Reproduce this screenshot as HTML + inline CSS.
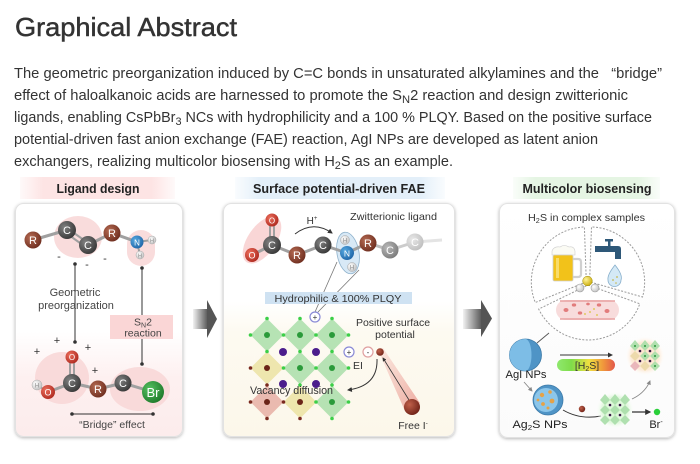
<!DOCTYPE html>
<html><head><meta charset="utf-8"><style>
html,body{margin:0;padding:0;background:#fff;}
svg{display:block;font-family:"Liberation Sans",Arial,sans-serif;}
</style></head><body>
<svg width="700" height="464" viewBox="0 0 700 464" xmlns="http://www.w3.org/2000/svg">
<defs>
<radialGradient id="gR" cx="0.35" cy="0.35" r="0.75"><stop offset="0" stop-color="#b46a52"/><stop offset="1" stop-color="#6a2a1c"/></radialGradient>
<radialGradient id="gC" cx="0.35" cy="0.35" r="0.75"><stop offset="0" stop-color="#808080"/><stop offset="1" stop-color="#333"/></radialGradient>
<radialGradient id="gO" cx="0.35" cy="0.35" r="0.75"><stop offset="0" stop-color="#ec6e5c"/><stop offset="1" stop-color="#ab261c"/></radialGradient>
<radialGradient id="gN" cx="0.35" cy="0.35" r="0.75"><stop offset="0" stop-color="#55a8e0"/><stop offset="1" stop-color="#1d62a4"/></radialGradient>
<radialGradient id="gH" cx="0.35" cy="0.35" r="0.75"><stop offset="0" stop-color="#fff"/><stop offset="1" stop-color="#bdbdbd"/></radialGradient>
<radialGradient id="gBr" cx="0.35" cy="0.35" r="0.75"><stop offset="0" stop-color="#55c060"/><stop offset="1" stop-color="#1c7628"/></radialGradient>
<radialGradient id="gG1" cx="0.35" cy="0.35" r="0.75"><stop offset="0" stop-color="#b8b8b8"/><stop offset="1" stop-color="#777"/></radialGradient>
<radialGradient id="gG2" cx="0.35" cy="0.35" r="0.75"><stop offset="0" stop-color="#e8e8e8"/><stop offset="1" stop-color="#bcbcbc"/></radialGradient>
<radialGradient id="gY" cx="0.35" cy="0.35" r="0.75"><stop offset="0" stop-color="#fff39a"/><stop offset="1" stop-color="#c8a800"/></radialGradient>
<radialGradient id="gBig" cx="0.35" cy="0.35" r="0.75"><stop offset="0" stop-color="#c0604a"/><stop offset="1" stop-color="#6a1e14"/></radialGradient>
<radialGradient id="glowP" cx="0.5" cy="0.5" r="0.5"><stop offset="0" stop-color="#fde3c8"/><stop offset="0.7" stop-color="#fdebd8"/><stop offset="1" stop-color="#fff" stop-opacity="0"/></radialGradient>
<radialGradient id="glowG" cx="0.5" cy="0.5" r="0.5"><stop offset="0" stop-color="#d6f5d0"/><stop offset="0.7" stop-color="#e3f8df"/><stop offset="1" stop-color="#fff" stop-opacity="0"/></radialGradient>
<linearGradient id="bgL" x1="0" y1="0" x2="0" y2="1"><stop offset="0" stop-color="#fff"/><stop offset="0.55" stop-color="#fff"/><stop offset="0.75" stop-color="#fdf0f0"/><stop offset="1" stop-color="#fcecec"/></linearGradient>
<linearGradient id="bgM" x1="0" y1="0" x2="0" y2="1"><stop offset="0" stop-color="#fff"/><stop offset="0.42" stop-color="#fff"/><stop offset="0.55" stop-color="#fdfaf1"/><stop offset="1" stop-color="#fcf7ea"/></linearGradient>
<linearGradient id="bgR" x1="0" y1="0" x2="0" y2="1"><stop offset="0" stop-color="#fff"/><stop offset="1" stop-color="#fbfbfb"/></linearGradient>
<linearGradient id="hP" x1="0" y1="0" x2="1" y2="0"><stop offset="0" stop-color="#fde4e4" stop-opacity="0.2"/><stop offset="0.15" stop-color="#fde4e4"/><stop offset="0.85" stop-color="#fde4e4"/><stop offset="1" stop-color="#fde4e4" stop-opacity="0.2"/></linearGradient>
<linearGradient id="hB" x1="0" y1="0" x2="1" y2="0"><stop offset="0" stop-color="#e3eff9" stop-opacity="0.2"/><stop offset="0.12" stop-color="#e3eff9"/><stop offset="0.88" stop-color="#e3eff9"/><stop offset="1" stop-color="#e3eff9" stop-opacity="0.2"/></linearGradient>
<linearGradient id="hG" x1="0" y1="0" x2="1" y2="0"><stop offset="0" stop-color="#e5f5e3" stop-opacity="0.2"/><stop offset="0.15" stop-color="#e5f5e3"/><stop offset="0.85" stop-color="#e5f5e3"/><stop offset="1" stop-color="#e5f5e3" stop-opacity="0.2"/></linearGradient>
<linearGradient id="arr" x1="0" y1="0" x2="1" y2="0"><stop offset="0" stop-color="#f2f2f2"/><stop offset="1" stop-color="#555"/></linearGradient>
<linearGradient id="bar" x1="0" y1="0" x2="1" y2="0"><stop offset="0" stop-color="#8fe86e"/><stop offset="0.25" stop-color="#7fdc4a"/><stop offset="0.55" stop-color="#f0e040"/><stop offset="0.8" stop-color="#f0963c"/><stop offset="1" stop-color="#e2584a"/></linearGradient>
<linearGradient id="beam" x1="0" y1="0" x2="1" y2="1"><stop offset="0" stop-color="#f6c8c0" stop-opacity="0.5"/><stop offset="1" stop-color="#e8958a"/></linearGradient>
<filter id="sh" x="-10%" y="-10%" width="120%" height="120%"><feDropShadow dx="0" dy="1" stdDeviation="1.6" flood-color="#000" flood-opacity="0.28"/></filter>
<marker id="ah" viewBox="0 0 10 10" refX="8" refY="5" markerWidth="5" markerHeight="5" orient="auto"><path d="M0,0 L10,5 L0,10 z" fill="#333"/></marker>
<marker id="ahg" viewBox="0 0 10 10" refX="8" refY="5" markerWidth="5" markerHeight="5" orient="auto"><path d="M0,0 L10,5 L0,10 z" fill="#888"/></marker>
</defs>

<!-- Header text -->
<text x="15" y="36" font-size="26" fill="#333" stroke="#333" stroke-width="0.45" textLength="222" lengthAdjust="spacingAndGlyphs">Graphical Abstract</text>
<g font-size="14.5" fill="#333">
<text x="14" y="78" textLength="648" lengthAdjust="spacingAndGlyphs" style="white-space:pre">The geometric preorganization induced by C=C bonds in unsaturated alkylamines and the   “bridge”</text>
<text x="14" y="100" textLength="614" lengthAdjust="spacingAndGlyphs">effect of haloalkanoic acids are harnessed to promote the S<tspan dy="3" font-size="11">N</tspan><tspan dy="-3">2 reaction and design zwitterionic</tspan></text>
<text x="14" y="122" textLength="638" lengthAdjust="spacingAndGlyphs">ligands, enabling CsPbBr<tspan dy="3" font-size="11">3</tspan><tspan dy="-3"> NCs with hydrophilicity and a 100 % PLQY. Based on the positive surface</tspan></text>
<text x="14" y="144" textLength="584" lengthAdjust="spacingAndGlyphs">potential-driven fast anion exchange (FAE) reaction, AgI NPs are developed as latent anion</text>
<text x="14" y="166" textLength="439" lengthAdjust="spacingAndGlyphs">exchangers, realizing multicolor biosensing with H<tspan dy="3" font-size="11">2</tspan><tspan dy="-3">S as an example.</tspan></text>
</g>

<!-- Section headers -->
<rect x="20" y="177" width="155" height="22" fill="url(#hP)"/>
<text x="98" y="193" font-size="12.5" font-weight="bold" fill="#222" text-anchor="middle" textLength="83" lengthAdjust="spacingAndGlyphs">Ligand design</text>
<rect x="235" y="177" width="210" height="22" fill="url(#hB)"/>
<text x="339" y="193" font-size="12.5" font-weight="bold" fill="#222" text-anchor="middle" textLength="172" lengthAdjust="spacingAndGlyphs">Surface potential-driven FAE</text>
<rect x="513" y="177" width="147" height="22" fill="url(#hG)"/>
<text x="587" y="193" font-size="12.5" font-weight="bold" fill="#222" text-anchor="middle" textLength="129" lengthAdjust="spacingAndGlyphs">Multicolor biosensing</text>

<!-- Panels -->
<rect x="15.5" y="203.5" width="167" height="233" rx="8" fill="url(#bgL)" stroke="#e2e2e2" filter="url(#sh)"/>
<rect x="223.5" y="203.5" width="231" height="233" rx="8" fill="url(#bgM)" stroke="#e2e2e2" filter="url(#sh)"/>
<rect x="499.5" y="203.5" width="175" height="234" rx="8" fill="url(#bgR)" stroke="#e2e2e2" filter="url(#sh)"/>

<!-- Arrows between panels -->
<rect x="193" y="309" width="15" height="20" fill="url(#arr)"/>
<polygon points="207,300 217,319 207,338" fill="#555"/>
<rect x="463" y="309" width="19" height="20" fill="url(#arr)"/>
<polygon points="481,300 492,318.5 481,337" fill="#555"/>

<!-- ============ LEFT PANEL ============ -->
<ellipse cx="78" cy="237" rx="24" ry="21" fill="#f8d6d6" opacity="0.85"/>
<rect x="127" y="230" width="28" height="36" rx="14" fill="#f8d6d6" opacity="0.85"/>
<ellipse cx="62" cy="378" rx="27" ry="26" fill="#f8d6d6" opacity="0.85"/>
<ellipse cx="140" cy="389" rx="30" ry="22" fill="#f8d6d6" opacity="0.85"/>
<g stroke="#a0a0a0" stroke-width="3" fill="none">
<line x1="33" y1="240" x2="67" y2="230"/>
<line x1="67" y1="228" x2="88" y2="243" stroke-width="2"/>
<line x1="66" y1="233" x2="87" y2="248" stroke-width="2"/>
<line x1="88" y1="245" x2="112" y2="233"/>
<line x1="112" y1="233" x2="137" y2="242"/>
<line x1="137" y1="242" x2="152" y2="240" stroke-width="2"/>
<line x1="137" y1="242" x2="140" y2="255" stroke-width="2"/>
<line x1="37" y1="385" x2="48" y2="392" stroke-width="2"/>
<line x1="48" y1="392" x2="72" y2="383"/>
<line x1="70" y1="357" x2="70" y2="383" stroke-width="2"/>
<line x1="74" y1="357" x2="74" y2="383" stroke-width="2"/>
<line x1="72" y1="383" x2="98" y2="389"/>
<line x1="98" y1="389" x2="123" y2="383"/>
<line x1="123" y1="383" x2="153" y2="392"/>
</g>
<g font-size="11" text-anchor="middle" fill="#fff">
<circle cx="33" cy="240" r="8.5" fill="url(#gR)"/><text x="33" y="244">R</text>
<circle cx="67" cy="230" r="9" fill="url(#gC)"/><text x="67" y="234">C</text>
<circle cx="88" cy="245" r="9" fill="url(#gC)"/><text x="88" y="249">C</text>
<circle cx="112" cy="233" r="8.5" fill="url(#gR)"/><text x="112" y="237">R</text>
<circle cx="137" cy="242" r="6.5" fill="url(#gN)"/><text x="137" y="245.5" font-size="8">N</text>
<circle cx="152" cy="240" r="4" fill="url(#gH)" stroke="#aaa" stroke-width="0.5"/><text x="152" y="242.5" font-size="5.5" fill="#888">H</text>
<circle cx="140" cy="255" r="4" fill="url(#gH)" stroke="#aaa" stroke-width="0.5"/><text x="140" y="257.5" font-size="5.5" fill="#888">H</text>
<circle cx="72" cy="357" r="6.5" fill="url(#gO)"/><text x="72" y="360" font-size="8">O</text>
<circle cx="72" cy="383" r="9" fill="url(#gC)"/><text x="72" y="387">C</text>
<circle cx="37" cy="385" r="5" fill="url(#gH)" stroke="#aaa" stroke-width="0.5"/><text x="37" y="387.5" font-size="6" fill="#888">H</text>
<circle cx="48" cy="392" r="7" fill="url(#gO)"/><text x="48" y="395.5" font-size="9">O</text>
<circle cx="98" cy="389" r="8.5" fill="url(#gR)"/><text x="98" y="393">R</text>
<circle cx="123" cy="383" r="8.5" fill="url(#gC)"/><text x="123" y="387">C</text>
<circle cx="153" cy="392" r="11" fill="url(#gBr)"/><text x="153" y="397" font-size="13">Br</text>
</g>
<g fill="#333" font-size="11" text-anchor="middle">
<text x="59" y="260">-</text><text x="87" y="268">-</text><text x="105" y="262">-</text>
<text x="37" y="355">+</text><text x="57" y="344">+</text><text x="88" y="351">+</text><text x="95" y="374">+</text>
</g>
<line x1="75" y1="264" x2="75" y2="342" stroke="#333" stroke-width="1"/>
<circle cx="75" cy="264" r="1.8" fill="#333"/><circle cx="75" cy="342" r="1.8" fill="#333"/>
<text x="75" y="296" font-size="11" fill="#444" text-anchor="middle">Geometric</text>
<text x="76" y="309" font-size="11" fill="#444" text-anchor="middle">preorganization</text>
<line x1="142" y1="268" x2="142" y2="364" stroke="#333" stroke-width="1"/>
<circle cx="142" cy="268" r="1.8" fill="#333"/><circle cx="142" cy="364" r="1.8" fill="#333"/>
<rect x="110" y="315" width="63" height="24" fill="#fad6d6"/>
<text x="143" y="325.5" font-size="10.5" fill="#444" text-anchor="middle">S<tspan font-size="7" dy="2">N</tspan><tspan dy="-2">2</tspan></text>
<text x="143" y="336.5" font-size="10.5" fill="#444" text-anchor="middle">reaction</text>
<line x1="72" y1="414" x2="153" y2="414" stroke="#333" stroke-width="1"/>
<circle cx="72" cy="414" r="1.8" fill="#333"/><circle cx="153" cy="414" r="1.8" fill="#333"/>
<text x="112" y="428" font-size="10.5" fill="#444" text-anchor="middle">“Bridge” effect</text>

<!-- ============ MIDDLE PANEL ============ -->
<ellipse cx="262" cy="240" rx="27" ry="14" fill="#f8d2d2" opacity="0.9" transform="rotate(-55 262 240)"/>
<ellipse cx="348" cy="253" rx="11" ry="21" fill="#d8e9f6" stroke="#8fb2cc" stroke-width="0.8" transform="rotate(-10 348 253)"/>
<g stroke="#a0a0a0" stroke-width="3" fill="none">
<line x1="270" y1="220" x2="270" y2="245" stroke-width="2"/>
<line x1="274" y1="220" x2="274" y2="245" stroke-width="2"/>
<line x1="272" y1="245" x2="252" y2="255"/>
<line x1="272" y1="245" x2="297" y2="255"/>
<line x1="297" y1="255" x2="323" y2="245"/>
<line x1="323" y1="245" x2="347" y2="253"/>
<line x1="347" y1="253" x2="368" y2="243"/>
<line x1="368" y1="243" x2="390" y2="250" stroke="#bbb"/>
<line x1="390" y1="250" x2="415" y2="242" stroke="#ccc"/>
<line x1="415" y1="242" x2="442" y2="240" stroke="#e4e4e4"/>
</g>
<g font-size="11" text-anchor="middle" fill="#fff">
<circle cx="272" cy="220" r="6.5" fill="url(#gO)"/><text x="272" y="223.5" font-size="8">O</text>
<circle cx="272" cy="245" r="9" fill="url(#gC)"/><text x="272" y="249">C</text>
<circle cx="252" cy="255" r="7" fill="url(#gO)"/><text x="252" y="258.5" font-size="9">O</text>
<circle cx="297" cy="255" r="8.5" fill="url(#gR)"/><text x="297" y="259">R</text>
<circle cx="323" cy="245" r="8.5" fill="url(#gC)"/><text x="323" y="249">C</text>
<circle cx="347" cy="253" r="7" fill="url(#gN)"/><text x="347" y="256.5" font-size="8.5">N</text>
<circle cx="345" cy="240" r="4.5" fill="url(#gH)" stroke="#aaa" stroke-width="0.5"/><text x="345" y="242.5" font-size="6" fill="#888">H</text>
<circle cx="352" cy="267" r="4.5" fill="url(#gH)" stroke="#aaa" stroke-width="0.5"/><text x="352" y="269.5" font-size="6" fill="#888">H</text>
<circle cx="368" cy="243" r="8.5" fill="url(#gR)"/><text x="368" y="247">R</text>
<circle cx="390" cy="250" r="8.5" fill="url(#gG1)"/><text x="390" y="254">C</text>
<circle cx="415" cy="242" r="8.5" fill="url(#gG2)"/><text x="415" y="246">C</text>
</g>
<text x="312" y="224" font-size="10" fill="#333" text-anchor="middle">H<tspan font-size="6" dy="-4">+</tspan></text>
<path d="M295,234 Q313,220 332,233" fill="none" stroke="#333" stroke-width="1" marker-end="url(#ah)"/>
<text x="350" y="220" font-size="10.5" fill="#333" textLength="87" lengthAdjust="spacingAndGlyphs">Zwitterionic ligand</text>
<line x1="337" y1="262" x2="315" y2="312" stroke="#777" stroke-width="0.8"/>
<line x1="359" y1="270" x2="318" y2="312" stroke="#777" stroke-width="0.8"/>
<rect x="265" y="292" width="147" height="12" fill="#cfe2f2"/>
<text x="338" y="302" font-size="10.5" fill="#333" text-anchor="middle" textLength="127" lengthAdjust="spacingAndGlyphs">Hydrophilic &amp; 100% PLQY</text>
<circle cx="315" cy="317" r="5" fill="#fff" stroke="#8a8ad6" stroke-width="1.2"/>
<text x="315" y="320" font-size="8" fill="#333" text-anchor="middle">+</text>

<!-- lattice -->
<g>
<polygon points="267,318.5 283.5,335 267,351.5 250.5,335" fill="#a9dea9" opacity="0.85"/>
<polygon points="300,318.5 316.5,335 300,351.5 283.5,335" fill="#a9dea9" opacity="0.85"/>
<polygon points="332,318.5 348.5,335 332,351.5 315.5,335" fill="#a9dea9" opacity="0.85"/>
<polygon points="267,351.5 283.5,368 267,384.5 250.5,368" fill="#ece3a6" opacity="0.9"/>
<polygon points="300,351.5 316.5,368 300,384.5 283.5,368" fill="#a9dea9" opacity="0.85"/>
<polygon points="332,351.5 348.5,368 332,384.5 315.5,368" fill="#a9dea9" opacity="0.85"/>
<polygon points="267,385.5 283.5,402 267,418.5 250.5,402" fill="#e8b2a8" opacity="0.9"/>
<polygon points="300,385.5 316.5,402 300,418.5 283.5,402" fill="#ece3a6" opacity="0.9"/>
<polygon points="332,385.5 348.5,402 332,418.5 315.5,402" fill="#a9dea9" opacity="0.85"/>
</g>
<g fill="#3ccf48">
<circle cx="267" cy="318.5" r="1.8"/><circle cx="300" cy="318.5" r="1.8"/><circle cx="332" cy="318.5" r="1.8"/>
<circle cx="250.5" cy="335" r="1.8"/><circle cx="283.5" cy="335" r="1.8"/><circle cx="316" cy="335" r="1.8"/><circle cx="348.5" cy="335" r="1.8"/>
<circle cx="267" cy="351.5" r="1.8"/><circle cx="300" cy="351.5" r="1.8"/><circle cx="332" cy="351.5" r="1.8"/>
<circle cx="283.5" cy="368" r="1.8"/><circle cx="316" cy="368" r="1.8"/><circle cx="348.5" cy="368" r="1.8"/>
<circle cx="300" cy="385" r="1.8"/><circle cx="332" cy="385" r="1.8"/>
<circle cx="316" cy="402" r="1.8"/><circle cx="348.5" cy="402" r="1.8"/>
<circle cx="332" cy="418.5" r="1.8"/>
</g>
<g fill="#7a2a1f">
<circle cx="250.5" cy="368" r="1.8"/><circle cx="267" cy="385" r="1.8"/><circle cx="250.5" cy="402" r="1.8"/><circle cx="283.5" cy="402" r="1.8"/>
<circle cx="267" cy="418.5" r="1.8"/><circle cx="300" cy="418.5" r="1.8"/>
</g>
<g fill="#2a9a3a">
<circle cx="267" cy="335" r="3"/><circle cx="300" cy="335" r="3"/><circle cx="332" cy="335" r="3"/>
<circle cx="300" cy="368" r="3"/><circle cx="332" cy="368" r="3"/><circle cx="332" cy="402" r="3"/>
</g>
<g fill="#6a2418">
<circle cx="267" cy="368" r="3"/><circle cx="267" cy="402" r="3"/><circle cx="300" cy="402" r="3"/>
</g>
<g fill="#4b1d8c">
<circle cx="283" cy="352" r="4"/><circle cx="316" cy="352" r="4"/><circle cx="283" cy="384" r="4"/><circle cx="316" cy="384" r="4"/>
</g>
<text x="393" y="326" font-size="10.5" fill="#333" text-anchor="middle">Positive surface</text>
<text x="395" y="338" font-size="10.5" fill="#333" text-anchor="middle">potential</text>
<circle cx="349" cy="352" r="5" fill="#fff" stroke="#8a8ad6" stroke-width="1.2"/>
<text x="349" y="355" font-size="8" fill="#333" text-anchor="middle">+</text>
<circle cx="368" cy="352" r="5" fill="#fff" stroke="#e0a0a0" stroke-width="1.2"/>
<text x="368" y="355" font-size="8" fill="#333" text-anchor="middle">-</text>
<polygon points="378,350 383,348 420,403 405,411" fill="url(#beam)" opacity="0.8"/>
<line x1="409" y1="400" x2="383" y2="358" stroke="#333" stroke-width="0.8" marker-end="url(#ah)"/>
<circle cx="380" cy="352" r="3.8" fill="url(#gBig)"/>
<circle cx="412" cy="407" r="8" fill="url(#gBig)"/>
<text x="358" y="369" font-size="10.5" fill="#333" text-anchor="middle">EI</text>
<path d="M377,359 Q378,386 348,390" fill="none" stroke="#333" stroke-width="1" marker-end="url(#ah)"/>
<text x="250" y="394" font-size="11" fill="#333" textLength="83" lengthAdjust="spacingAndGlyphs">Vacancy diffusion</text>
<text x="413" y="429" font-size="10.5" fill="#333" text-anchor="middle">Free I<tspan font-size="6.5" dy="-4">-</tspan></text>

<!-- ============ RIGHT PANEL ============ -->
<text x="528" y="221" font-size="10.5" fill="#333" textLength="117" lengthAdjust="spacingAndGlyphs">H<tspan font-size="7" dy="2">2</tspan><tspan dy="-2">S in complex samples</tspan></text>
<g fill="#fff" stroke="#9a9a9a" stroke-width="1" stroke-dasharray="2 1.5">
<path d="M586.3,281.9 L535.3,302.5 A55,55 0 0 1 584.4,227 Z"/>
<path d="M589.6,281.8 L591.5,226.9 A55,55 0 0 1 642.5,297 Z"/>
<path d="M588.1,285 L639.8,303.8 A55,55 0 0 1 538.7,309.1 Z"/>
</g>
<!-- beer -->
<path d="M552,251 q2,-5 8,-4 q4,-3 9,0 q5,-1 6,4 l0,4 l-23,0 z" fill="#fbfbf4" stroke="#ccc" stroke-width="0.6"/>
<rect x="553" y="255" width="20" height="26" rx="1.5" fill="#f2c21a" stroke="#cfcfcf" stroke-width="0.8"/>
<rect x="556" y="258" width="3" height="20" fill="#f8dc6a"/>
<path d="M573,259 h5 q3,0 3,3 v12 q0,3 -3,3 h-5" fill="none" stroke="#d0d0d0" stroke-width="2.2"/>
<!-- faucet -->
<rect x="605" y="239" width="8" height="2.5" fill="#2e5878"/>
<rect x="608" y="240" width="2.5" height="6" fill="#2e5878"/>
<path d="M595,246 h23 q3,0 3,3 v10 h-6 v-7 h-20 z" fill="#2e5878"/>
<!-- drop -->
<path d="M615,265 q8,10 6,15 a6.5,6.5 0 0 1 -13,0 q-1,-5 7,-15 z" fill="#d4e9f6" stroke="#86aecb" stroke-width="0.8"/>
<circle cx="613" cy="280" r="0.9" fill="#c9b64a"/><circle cx="617" cy="277" r="0.9" fill="#c9b64a"/><circle cx="616" cy="283" r="0.8" fill="#c9b64a"/>
<!-- blood vessel -->
<rect x="556" y="300" width="63" height="20" rx="10" fill="#f8dcdc"/>
<path d="M560,301 h55 M560,319 h55" stroke="#e7a2a2" stroke-width="1.5"/>
<g fill="#e27c7c">
<ellipse cx="566" cy="310" rx="2.5" ry="2"/><ellipse cx="574" cy="305" rx="2.2" ry="1.6"/><ellipse cx="580" cy="313" rx="2.2" ry="1.6"/>
<ellipse cx="599" cy="305" rx="2.2" ry="1.6"/><ellipse cx="607" cy="311" rx="2.5" ry="2"/><ellipse cx="588" cy="304" rx="1.8" ry="1.4"/>
</g>
<g fill="#d9c43a"><circle cx="590" cy="312" r="0.9"/><circle cx="594" cy="309" r="0.9"/><circle cx="585" cy="314" r="0.9"/><circle cx="597" cy="315" r="0.9"/></g>
<!-- center node -->
<circle cx="580" cy="288" r="4" fill="url(#gH)" stroke="#999" stroke-width="0.6"/>
<circle cx="595" cy="288" r="4" fill="url(#gH)" stroke="#999" stroke-width="0.6"/>
<circle cx="587.5" cy="281" r="4.8" fill="url(#gY)" stroke="#a08a00" stroke-width="0.5"/>

<!-- AgI -->
<line x1="537" y1="343" x2="549" y2="333" stroke="#555" stroke-width="0.9"/>
<circle cx="525.5" cy="355" r="16" fill="#4f94c6" stroke="#3c7aa8" stroke-width="0.8"/>
<path d="M525.5,339 a16,16 0 0 0 0,32 a6,16 0 0 0 0,-32 z" fill="#7dbde6"/>
<text x="526" y="378" font-size="11" fill="#222" text-anchor="middle" textLength="41" lengthAdjust="spacingAndGlyphs">AgI NPs</text>
<line x1="560" y1="355" x2="612" y2="355" stroke="#333" stroke-width="1" marker-end="url(#ah)"/>
<rect x="557" y="359" width="58" height="12" rx="6" fill="url(#bar)"/>
<text x="587" y="369" font-size="10.5" fill="#333" text-anchor="middle">[H<tspan font-size="7" dy="2">2</tspan><tspan dy="-2">S]</tspan></text>
<!-- lattice top-right -->
<circle cx="645" cy="356" r="20" fill="url(#glowP)"/>
<g>
<g fill="#a9dea9" opacity="0.9">
<polygon points="635,340 640,346 635,351 630,346"/><polygon points="645,340 650,346 645,351 640,346"/><polygon points="655,340 660,346 655,351 650,346"/>
<polygon points="635,351 640,356 635,361 630,356" fill="#ecd9a8"/><polygon points="645,351 650,356 645,361 640,356"/><polygon points="655,351 660,356 655,361 650,356"/>
<polygon points="635,361 640,366 635,371 630,366" fill="#e8b2b8"/><polygon points="645,361 650,366 645,371 640,366" fill="#ecd9a8"/><polygon points="655,361 660,366 655,371 650,366"/>
</g>
<g fill="#3a1a4a"><circle cx="640" cy="351" r="1.3"/><circle cx="650" cy="351" r="1.3"/><circle cx="640" cy="361" r="1.3"/><circle cx="650" cy="361" r="1.3"/></g>
<g fill="#2e9a3a"><circle cx="635" cy="346" r="1"/><circle cx="645" cy="346" r="1"/><circle cx="655" cy="346" r="1"/><circle cx="645" cy="356" r="1"/><circle cx="655" cy="356" r="1"/><circle cx="655" cy="366" r="1"/></g>
</g>
<!-- Ag2S -->
<line x1="524" y1="382" x2="532" y2="391" stroke="#888" stroke-width="0.9" marker-end="url(#ahg)"/>
<circle cx="548" cy="400" r="15" fill="#4f94c6" stroke="#3c7aa8" stroke-width="0.8"/>
<circle cx="546" cy="400" r="12" fill="#8cc6ea"/>
<g fill="#e6a246"><circle cx="542" cy="395" r="2.2"/><circle cx="550" cy="392" r="1.8"/><circle cx="552" cy="401" r="2.4"/><circle cx="543" cy="404" r="1.9"/><circle cx="548" cy="408" r="1.5"/><circle cx="538" cy="400" r="1.4"/></g>
<text x="540" y="428" font-size="11" fill="#222" text-anchor="middle" textLength="55" lengthAdjust="spacingAndGlyphs">Ag<tspan font-size="7" dy="2">2</tspan><tspan dy="-2">S NPs</tspan></text>
<path d="M563,410 Q580,420 601,416" fill="none" stroke="#333" stroke-width="1"/>
<circle cx="582" cy="409" r="3.2" fill="url(#gBig)"/>
<!-- lattice bottom -->
<circle cx="615" cy="410" r="19" fill="url(#glowG)"/>
<g fill="#a9dea9" opacity="0.9">
<polygon points="605,394 610,400 605,405 600,400"/><polygon points="615,394 620,400 615,405 610,400"/><polygon points="625,394 630,400 625,405 620,400"/>
<polygon points="605,405 610,410 605,415 600,410"/><polygon points="615,405 620,410 615,415 610,410"/><polygon points="625,405 630,410 625,415 620,410"/>
<polygon points="605,415 610,420 605,425 600,420"/><polygon points="615,415 620,420 615,425 610,420"/><polygon points="625,415 630,420 625,425 620,420"/>
</g>
<g fill="#3a1a4a"><circle cx="610" cy="405" r="1.3"/><circle cx="620" cy="405" r="1.3"/><circle cx="610" cy="415" r="1.3"/><circle cx="620" cy="415" r="1.3"/></g>
<line x1="632" y1="412" x2="650" y2="412" stroke="#333" stroke-width="1.2" marker-end="url(#ah)"/>
<circle cx="657" cy="412" r="3.2" fill="#2ad03a"/>
<text x="656" y="428" font-size="11" fill="#222" text-anchor="middle">Br<tspan font-size="7" dy="-4">-</tspan></text>
<path d="M632,399 Q645,393 650,381" fill="none" stroke="#888" stroke-width="0.9" marker-end="url(#ahg)"/>
</svg>
</body></html>
